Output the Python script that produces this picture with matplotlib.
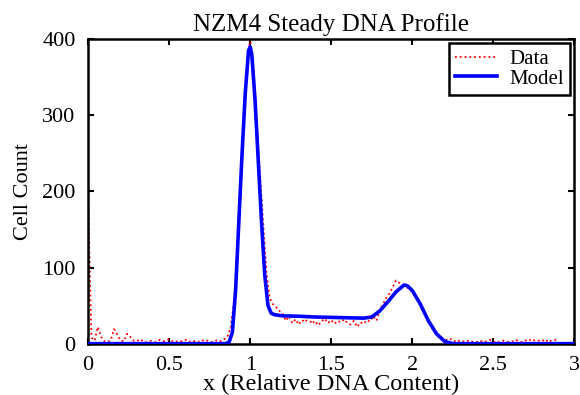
import numpy as np
import matplotlib
matplotlib.use("Agg")
import matplotlib.pyplot as plt

plt.rcParams['font.family'] = ['Liberation Serif', 'DejaVu Serif']

# measured histogram (cell counts), bins every 0.02 from 0 to 2.9
data_counts = [190, 8, 4, 22, 9, 3, 2, 5, 19, 12,
               4, 3, 13, 9, 4, 3, 6, 3, 2, 4,
               3, 2, 5, 3, 4, 6, 3, 2, 4, 3,
               5, 2, 4, 3, 2, 5, 3, 4, 2, 3,
               5, 3, 6, 9, 22, 55, 120, 205, 290, 360,
               400, 362, 295, 225, 160, 95, 60, 52, 48, 43,
               40, 30, 36, 27, 32, 25, 31, 28, 35, 26,
               30, 24, 29, 33, 27, 31, 26, 30, 28, 32,
               27, 25, 30, 22, 28, 26, 31, 29, 36, 30,
               45, 52, 60, 66, 74, 83, 80, 78, 75, 72,
               68, 62, 55, 47, 38, 30, 22, 15, 10, 8,
               6, 4, 6, 3, 5, 2, 3, 4, 2, 3,
               2, 4, 2, 3, 5, 2, 3, 2, 4, 3,
               2, 3, 5, 3, 2, 4, 6, 3, 5, 4,
               3, 6, 2, 4, 5, 3]
data_x = np.linspace(0, 2.9, len(data_counts))

# fitted model curve
model_x = [0.0, 0.5, 0.85, 0.87, 0.89, 0.91, 0.93, 0.95, 0.97, 0.99,
           1.00, 1.01, 1.03, 1.05, 1.07, 1.09, 1.11, 1.13, 1.15, 1.2,
           1.3, 1.4, 1.5, 1.6, 1.7, 1.75, 1.8, 1.85, 1.9, 1.95,
           1.97, 2.0, 2.05, 2.1, 2.15, 2.2, 2.25, 3.0]
model_y = [0, 0, 0, 2, 15, 70, 160, 250, 330, 385,
           390, 380, 320, 240, 160, 90, 50, 40, 38, 36.5,
           36, 35, 34.5, 34, 33.5, 35, 43, 55, 68, 77,
           76, 70, 52, 30, 13, 3, 0, 0]

fig = plt.figure(figsize=(5.8, 3.95), dpi=100)
ax = fig.add_axes([0.152, 0.130, 0.838, 0.771])

ax.plot(data_x, data_counts, color='red', linestyle=':', linewidth=1.3, label='Data')
ax.plot(model_x, model_y, color='blue', linewidth=2.6, label='Model', zorder=3)

ax.set_xlim(0, 3)
ax.set_ylim(0, 400)
ax.set_xticks([0, 0.5, 1, 1.5, 2, 2.5, 3])
ax.set_xticklabels(['0', '0.5', '1', '1.5', '2', '2.5', '3'])
ax.set_yticks([0, 100, 200, 300, 400])
ax.tick_params(direction='in', top=True, right=True, length=4, width=1.5,
               labelsize=16)
ax.tick_params(axis='y', pad=9)
ax.tick_params(axis='x', pad=9)
for s in ax.spines.values():
    s.set_linewidth(1.8)

ax.set_title('NZM4 Steady DNA Profile', fontsize=18, pad=6)
ax.set_xlabel('x (Relative DNA Content)', fontsize=17.5, labelpad=-1)
ax.set_ylabel('Cell Count', fontsize=16, labelpad=7)

leg = ax.legend(loc='upper right', fontsize=15, borderaxespad=0.2, fancybox=False,
                framealpha=1, edgecolor='black', handlelength=2.0,
                handletextpad=0.6, borderpad=0.3, labelspacing=0.0)
leg.get_frame().set_linewidth(1.8)

fig.savefig('out.png', dpi=100)
